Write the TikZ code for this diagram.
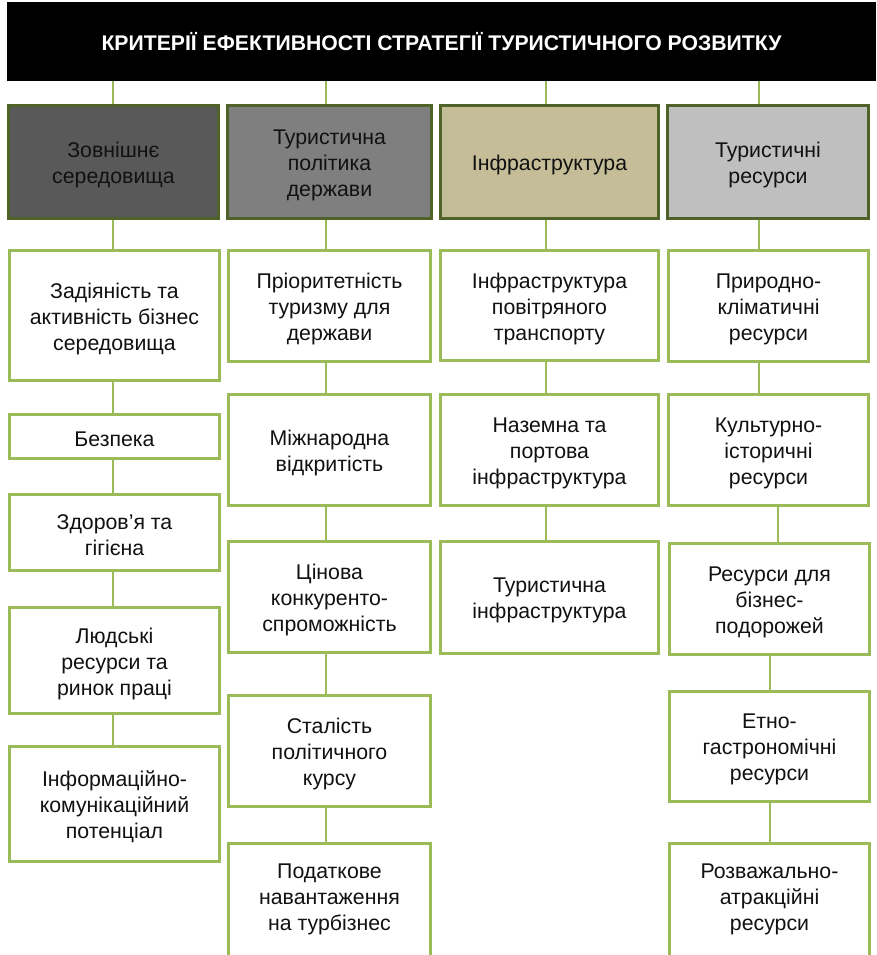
\documentclass[tikz,border=0pt]{standalone}
\usepackage{fontspec}
\setmainfont{Liberation Sans}
\usetikzlibrary{backgrounds}
\definecolor{olive}{HTML}{4F6228}
\definecolor{lgreen}{HTML}{9BBB59}
\definecolor{fA}{HTML}{595959}
\definecolor{fB}{HTML}{7F7F7F}
\definecolor{fC}{HTML}{C4BD97}
\definecolor{fD}{HTML}{BFBFBF}
\definecolor{txt}{HTML}{111111}
\tikzset{
  topbox/.style={draw=olive, line width=3pt},
  subbox/.style={draw=lgreen, line width=3pt, fill=white},
  boxtext/.style={text=txt, align=center, inner sep=0pt,
    font=\fontsize{21.3}{26}\selectfont},
  conn/.style={draw=lgreen, line width=2.5pt},
}
% #1 name, #2 style, #3 x1, #4 y1, #5 x2, #6 y2, #7 text
\newcommand\placebox[7]{%
  \node[#2, minimum width={#5-#3-3}, minimum height={#6-#4-3}] (#1)
    at ({(#3+#5)/2},{(#4+#6)/2}) {};
  \node[boxtext] (#1t) at ([yshift=-3pt]#1.center) {#7};}
% same, text placed at a given y centre (for boxes running off the page)
\newcommand\placeboxat[8]{%
  \node[#2, minimum width={#5-#3-3}, minimum height={#6-#4-3}] (#1)
    at ({(#3+#5)/2},{(#4+#6)/2}) {};
  \node[boxtext] (#1t) at ({(#3+#5)/2},#8) {#7};}
\begin{document}
\begin{tikzpicture}[x=1pt,y=-1pt]
\useasboundingbox (0,0) rectangle (876,955);
% title bar
\node[fill=black, minimum width=869, minimum height=79, inner sep=0pt, text=white,
  font=\bfseries\fontsize{21.2}{25}\selectfont] (title) at (441.5,41.5)
  {\raisebox{-1pt}{КРИТЕРІЇ ЕФЕКТИВНОСТІ СТРАТЕГІЇ ТУРИСТИЧНОГО РОЗВИТКУ}};
\coordinate (xa) at (113,0);
\coordinate (xb) at (326,0);
\coordinate (xc) at (546,0);
\coordinate (xd) at (759,0);
\coordinate (xd2) at (778,0);
\coordinate (xd3) at (770,0);
% level 1
\placebox{A}{topbox, fill=fA}{7}{104}{220}{220}{Зовнішнє\\середовища}
\placebox{B}{topbox, fill=fB}{226}{104}{433}{220}{Туристична\\політика\\держави}
\placebox{C}{topbox, fill=fC}{439}{104}{660}{220}{Інфраструктура}
\placebox{D}{topbox, fill=fD}{666}{104}{870}{220}{Туристичні\\ресурси}
% column 1
\placebox{A1}{subbox}{8}{249}{221}{382}{Задіяність та\\активність бізнес\\середовища}
\placebox{A2}{subbox}{8}{413}{221}{460}{Безпека}
\placebox{A3}{subbox}{8}{493}{221}{572}{Здоров’я та\\гігієна}
\placebox{A4}{subbox}{8}{606}{221}{715}{Людські\\ресурси та\\ринок праці}
\placebox{A5}{subbox}{8}{745}{221}{863}{Інформаційно-\\комунікаційний\\потенціал}
% column 2
\placebox{B1}{subbox}{227}{249}{432}{363}{Пріоритетність\\туризму для\\держави}
\placebox{B2}{subbox}{227}{393}{432}{507}{Міжнародна\\відкритість}
\placebox{B3}{subbox}{227}{540}{432}{654}{Цінова\\конкуренто-\\спроможність}
\placebox{B4}{subbox}{227}{694}{432}{808}{Сталість\\політичного\\курсу}
\placeboxat{B5}{subbox}{227}{842}{432}{968}{Податкове\\навантаження\\на турбізнес}{899}
% column 3
\placebox{C1}{subbox}{439}{249}{660}{362}{Інфраструктура\\повітряного\\транспорту}
\placebox{C2}{subbox}{439}{393}{660}{507}{Наземна та\\портова\\інфраструктура}
\placebox{C3}{subbox}{439}{540}{660}{655}{Туристична\\інфраструктура}
% column 4
\placebox{D1}{subbox}{667}{249}{870}{363}{Природно-\\кліматичні\\ресурси}
\placebox{D2}{subbox}{667}{393}{870}{507}{Культурно-\\історичні\\ресурси}
\placebox{D3}{subbox}{668}{542}{871}{656}{Ресурси для\\бізнес-\\подорожей}
\placebox{D4}{subbox}{668}{690}{871}{803}{Етно-\\гастрономічні\\ресурси}
\placeboxat{D5}{subbox}{668}{842}{871}{968}{Розважально-\\атракційні\\ресурси}{899}
% connectors
\begin{scope}[on background layer]
\draw[conn] (title.south -| xa) -- (A.north -| xa);
\draw[conn] (title.south -| xb) -- (B.north -| xb);
\draw[conn] (title.south -| xc) -- (C.north -| xc);
\draw[conn] (title.south -| xd) -- (D.north -| xd);
\draw[conn] (A.south -| xa) -- (A1.north -| xa);
\draw[conn] (A1.south -| xa) -- (A2.north -| xa);
\draw[conn] (A2.south -| xa) -- (A3.north -| xa);
\draw[conn] (A3.south -| xa) -- (A4.north -| xa);
\draw[conn] (A4.south -| xa) -- (A5.north -| xa);
\draw[conn] (B.south -| xb) -- (B1.north -| xb);
\draw[conn] (B1.south -| xb) -- (B2.north -| xb);
\draw[conn] (B2.south -| xb) -- (B3.north -| xb);
\draw[conn] (B3.south -| xb) -- (B4.north -| xb);
\draw[conn] (B4.south -| xb) -- (B5.north -| xb);
\draw[conn] (C.south -| xc) -- (C1.north -| xc);
\draw[conn] (C1.south -| xc) -- (C2.north -| xc);
\draw[conn] (C2.south -| xc) -- (C3.north -| xc);
\draw[conn] (D.south -| xd) -- (D1.north -| xd);
\draw[conn] (D1.south -| xd) -- (D2.north -| xd);
\draw[conn] (D2.south -| xd2) -- (D3.north -| xd2);
\draw[conn] (D3.south -| xd3) -- (D4.north -| xd3);
\draw[conn] (D4.south -| xd3) -- (D5.north -| xd3);
\end{scope}
\end{tikzpicture}
\end{document}
